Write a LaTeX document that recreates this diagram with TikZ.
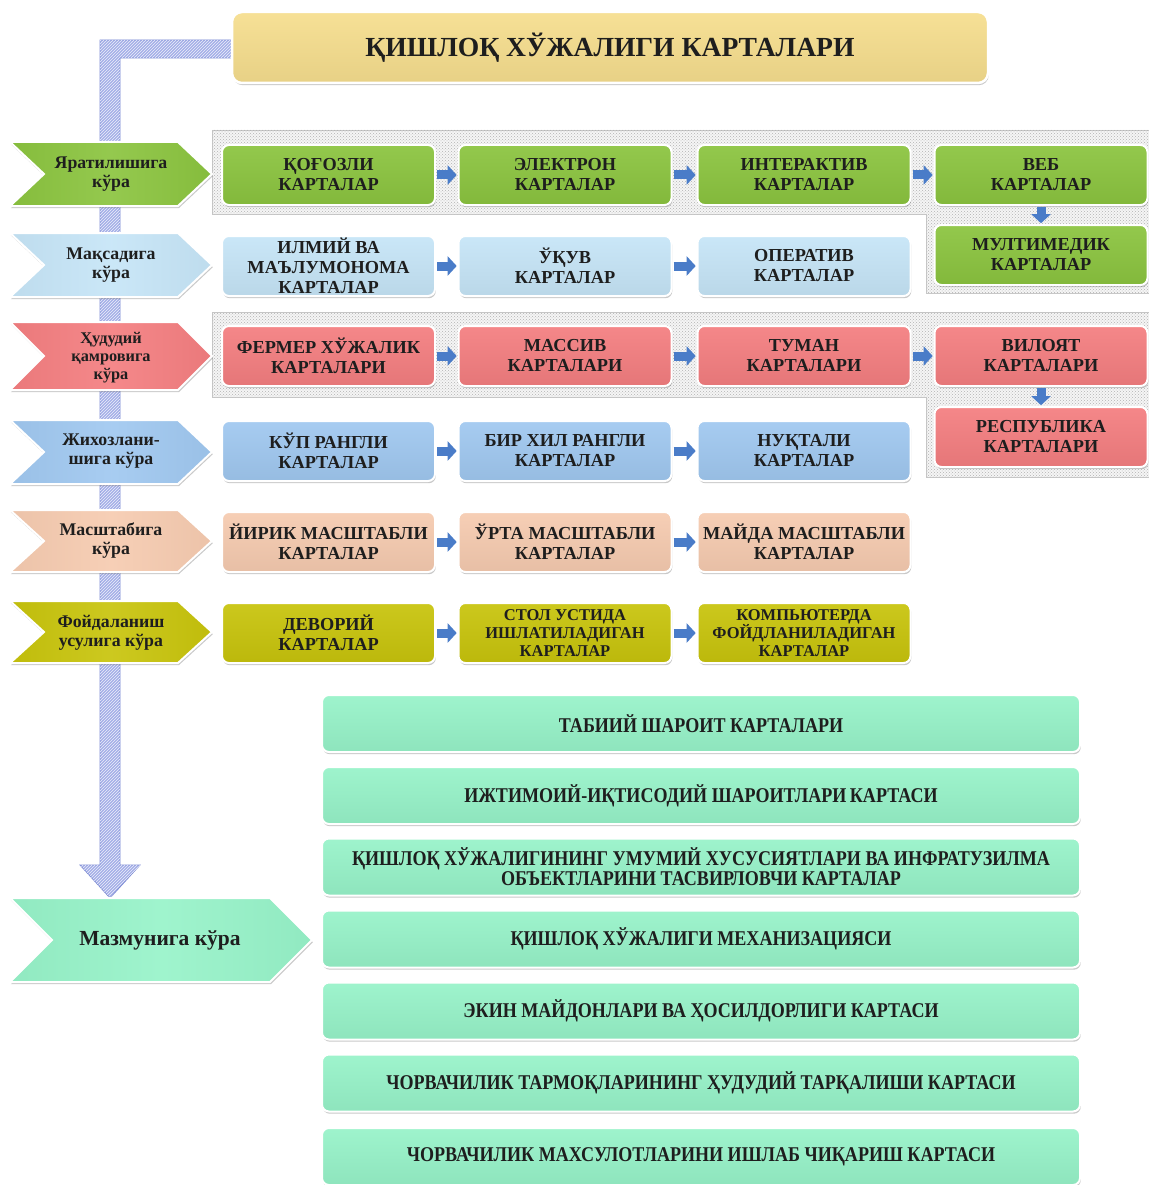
\documentclass[tikz,border=0pt]{standalone}
\usepackage{fontspec}
\setmainfont{Liberation Serif}
\newfontfamily\condfont{Liberation Serif}[FakeStretch=0.86]
\usetikzlibrary{arrows.meta,shadows,patterns}

\definecolor{txt}{HTML}{1E1E1E}
\definecolor{cGreen}{HTML}{8BC43F}
\definecolor{cLBlue}{HTML}{C6E5F7}
\definecolor{cRed}{HTML}{F47E80}
\definecolor{cBlue}{HTML}{A0C8F0}
\definecolor{cPeach}{HTML}{F6CBB0}
\definecolor{cOlive}{HTML}{C8C40C}
\definecolor{cMint}{HTML}{97F3C9}
\definecolor{cTitle}{HTML}{F6DE8E}
\definecolor{cArrow}{HTML}{4A7CC8}
\definecolor{cPipe}{HTML}{A4AFE8}
\definecolor{cPipeLine}{HTML}{7E8CD4}

\tikzset{
  softshadow/.style={drop shadow={shadow xshift=0.8pt, shadow yshift=-2.2pt, opacity=0.3, fill=black!70}},
  tint/.style={top color=#1!93!white, bottom color=#1!94!black},
  card/.style={rounded corners=7pt, draw=white, line width=2pt, softshadow,
    minimum width=213pt, minimum height=60pt, inner sep=0pt, align=center,
    text=txt, font=\bfseries\fontsize{18.3}{20}\selectfont},
  smallcard/.style={card, font=\bfseries\fontsize{16.5}{18}\selectfont},
  wide/.style={rounded corners=7pt, draw=white, line width=2pt, softshadow, tint=cMint,
    minimum width=758pt, minimum height=57pt, inner sep=0pt, align=center,
    text=txt, font=\condfont\bfseries\fontsize{21}{20}\selectfont},
  chev/.style={draw=white, line width=2pt, softshadow, left color=#1!96!black,
    right color=#1!96!black, middle color=#1!92!white},
  chevtext/.style={align=center, inner sep=0pt, text=txt,
    font=\bfseries\fontsize{17.8}{19}\selectfont},
  barrow/.style={draw=cArrow, line width=9pt,
    -{Triangle[width=19pt,length=9pt]}, shorten <=1.2pt, shorten >=0.8pt},
  dotzone/.style={fill=black!4, draw=black!22, line width=0.6pt,
    postaction={pattern=crosshatch dots, pattern color=black!30}},
}

% chevron outline: colour, left x, tip x, centre y, half height, point depth
\newcommand\chevshape[6]{%
  \path[chev=#1] (#2,#4-#5) -- (#3-#6,#4-#5) -- (#3,#4) -- (#3-#6,#4+#5)
    -- (#2,#4+#5) -- (#2+#6,#4) -- cycle;}

\begin{document}
\begin{tikzpicture}[x=1pt, y=-1pt]
\useasboundingbox (0,0) rectangle (1148,1185);

% dotted backgrounds behind the first and third rows
\path[dotzone] (212,130) -- (1150,130) -- (1150,293) -- (926,293) -- (926,214) -- (212,214) -- cycle;
\path[dotzone] (212,312) -- (1150,312) -- (1150,477) -- (926,477) -- (926,397) -- (212,397) -- cycle;

% hatched pipe running from the title down to the content chevron
\path[fill=cPipe, draw=cPipeLine, line width=0.8pt,
  postaction={pattern=north east lines, pattern color=white!80!cPipe}]
  (232,40) -- (100,40) -- (100,865) -- (80,865) -- (110,898) -- (140,865)
  -- (120,865) -- (120,58) -- (232,58) -- cycle;

% title
\node[rounded corners=10pt, draw=white, line width=2.5pt, softshadow, tint=cTitle,
  minimum width=756pt, minimum height=71pt, inner sep=0pt, text=txt,
  font=\bfseries\fontsize{27.6}{30}\selectfont] (title) at (610,47.5)
  {ҚИШЛОҚ ХЎЖАЛИГИ КАРТАЛАРИ};

% category chevrons
\chevshape{cGreen}{10}{212}{174}{32}{34}
\node[chevtext] (k1) at (111,174) {Яратилишига\\кўра};
\chevshape{cLBlue}{10}{212}{265}{32}{34}
\node[chevtext] (k2) at (111,265) {Мақсадига\\кўра};
\chevshape{cRed}{10}{212}{356}{34}{34}
\node[chevtext, font=\bfseries\fontsize{16.3}{18}\selectfont] (k3) at (111,358) {Ҳудудий\\қамровига\\кўра};
\chevshape{cBlue}{10}{212}{452}{32}{34}
\node[chevtext] (k4) at (111,451) {Жихозлани-\\шига кўра};
\chevshape{cPeach}{10}{212}{541}{31}{34}
\node[chevtext] (k5) at (111,541) {Масштабига\\кўра};
\chevshape{cOlive}{10}{212}{632}{31}{34}
\node[chevtext] (k6) at (111,633) {Фойдаланиш\\усулига кўра};
\chevshape{cMint}{10}{312}{940}{42}{42}
\node[chevtext, font=\bfseries\fontsize{21.5}{22}\selectfont] (k7) at (160,940) {Мазмунига кўра};

% row 1
\node[card, tint=cGreen] (g1) at (328.5,175) {ҚОҒОЗЛИ\\КАРТАЛАР};
\node[card, tint=cGreen] (g2) at (565,175) {ЭЛЕКТРОН\\КАРТАЛАР};
\node[card, tint=cGreen] (g3) at (804,175) {ИНТЕРАКТИВ\\КАРТАЛАР};
\node[card, tint=cGreen] (g4) at (1041,175) {ВЕБ\\КАРТАЛАР};
\node[card, tint=cGreen] (g5) at (1041,255) {МУЛТИМЕДИК\\КАРТАЛАР};
% row 2
\node[card, tint=cLBlue] (p1) at (328.5,266) {ИЛМИЙ ВА\\МАЪЛУМОНОМА\\КАРТАЛАР};
\node[card, tint=cLBlue] (p2) at (565,266) {ЎҚУВ\\КАРТАЛАР};
\node[card, tint=cLBlue] (p3) at (804,266) {ОПЕРАТИВ\\КАРТАЛАР};
% row 3
\node[card, tint=cRed] (r1) at (328.5,356) {ФЕРМЕР ХЎЖАЛИК\\КАРТАЛАРИ};
\node[card, tint=cRed] (r2) at (565,356) {МАССИВ\\КАРТАЛАРИ};
\node[card, tint=cRed] (r3) at (804,356) {ТУМАН\\КАРТАЛАРИ};
\node[card, tint=cRed] (r4) at (1041,356) {ВИЛОЯТ\\КАРТАЛАРИ};
\node[card, tint=cRed] (r5) at (1041,437) {РЕСПУБЛИКА\\КАРТАЛАРИ};
% row 4
\node[card, tint=cBlue] (b1) at (328.5,451) {КЎП РАНГЛИ\\КАРТАЛАР};
\node[card, tint=cBlue] (b2) at (565,451) {БИР ХИЛ РАНГЛИ\\КАРТАЛАР};
\node[card, tint=cBlue] (b3) at (804,451) {НУҚТАЛИ\\КАРТАЛАР};
% row 5
\node[card, tint=cPeach] (s1) at (328.5,542) {ЙИРИК МАСШТАБЛИ\\КАРТАЛАР};
\node[card, tint=cPeach] (s2) at (565,542) {ЎРТА МАСШТАБЛИ\\КАРТАЛАР};
\node[card, tint=cPeach] (s3) at (804,542) {МАЙДА МАСШТАБЛИ\\КАРТАЛАР};
% row 6
\node[card, tint=cOlive] (u1) at (328.5,633) {ДЕВОРИЙ\\КАРТАЛАР};
\node[smallcard, tint=cOlive] (u2) at (565,633) {СТОЛ УСТИДА\\ИШЛАТИЛАДИГАН\\КАРТАЛАР};
\node[smallcard, tint=cOlive] (u3) at (804,633) {КОМПЬЮТЕРДА\\ФОЙДЛАНИЛАДИГАН\\КАРТАЛАР};

% content list
\node[wide] (m1) at (701,723.5) {ТАБИИЙ ШАРОИТ КАРТАЛАРИ};
\node[wide] (m2) at (701,795.5) {ИЖТИМОИЙ-ИҚТИСОДИЙ ШАРОИТЛАРИ\,КАРТАСИ};
\node[wide] (m3) at (701,867) {ҚИШЛОҚ ХЎЖАЛИГИНИНГ УМУМИЙ ХУСУСИЯТЛАРИ ВА ИНФРАТУЗИЛМА\\ОБЪЕКТЛАРИНИ ТАСВИРЛОВЧИ КАРТАЛАР};
\node[wide] (m4) at (701,939) {ҚИШЛОҚ ХЎЖАЛИГИ МЕХАНИЗАЦИЯСИ};
\node[wide] (m5) at (701,1011) {ЭКИН МАЙДОНЛАРИ ВА ҲОСИЛДОРЛИГИ КАРТАСИ};
\node[wide] (m6) at (701,1083) {ЧОРВАЧИЛИК ТАРМОҚЛАРИНИНГ ҲУДУДИЙ ТАРҚАЛИШИ КАРТАСИ};
\node[wide] (m7) at (701,1156.5) {ЧОРВАЧИЛИК МАХСУЛОТЛАРИНИ ИШЛАБ ЧИҚАРИШ КАРТАСИ};

% block arrows between the cards
\draw[barrow] (g1) -- (g2);
\draw[barrow] (g2) -- (g3);
\draw[barrow] (g3) -- (g4);
\draw[barrow] (g4) -- (g5);
\draw[barrow] (p1) -- (p2);
\draw[barrow] (p2) -- (p3);
\draw[barrow] (r1) -- (r2);
\draw[barrow] (r2) -- (r3);
\draw[barrow] (r3) -- (r4);
\draw[barrow] (r4) -- (r5);
\draw[barrow] (b1) -- (b2);
\draw[barrow] (b2) -- (b3);
\draw[barrow] (s1) -- (s2);
\draw[barrow] (s2) -- (s3);
\draw[barrow] (u1) -- (u2);
\draw[barrow] (u2) -- (u3);
\end{tikzpicture}
\end{document}
